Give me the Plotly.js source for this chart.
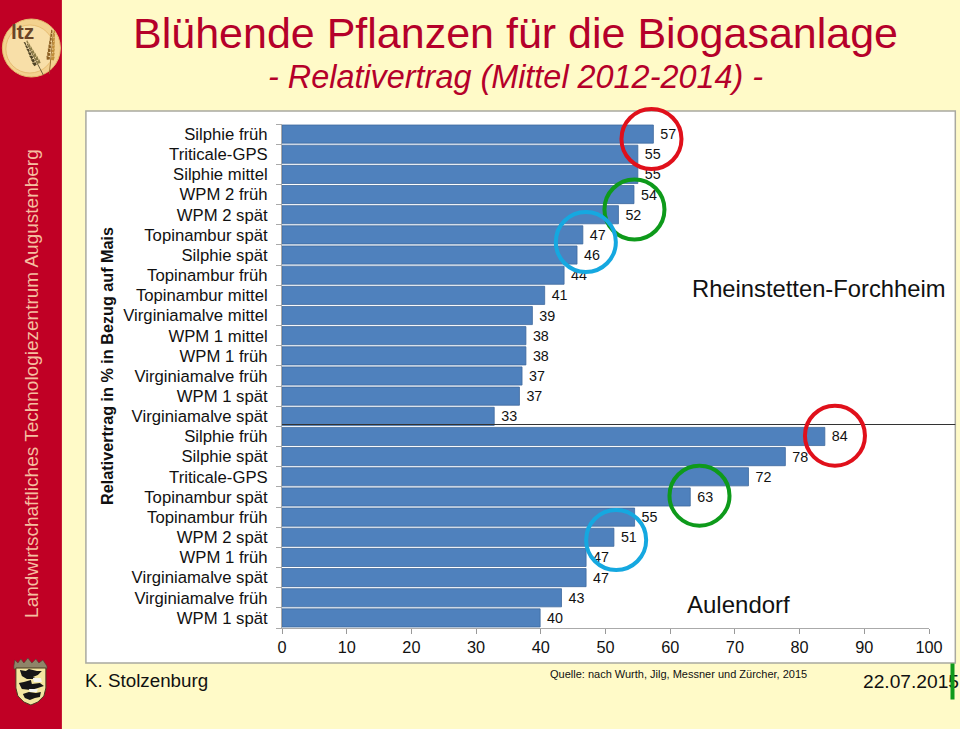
<!DOCTYPE html>
<html><head><meta charset="utf-8">
<script src="https://cdn.plot.ly/plotly-3.0.1.min.js"></script>
<style>html,body{margin:0;padding:0;background:#FFFAC8}#c{width:960px;height:729px}</style>
</head><body><div id="c"></div>
<script>
const categories = ["Silphie früh","Triticale-GPS","Silphie mittel","WPM 2 früh","WPM 2 spät","Topinambur spät","Silphie spät","Topinambur früh","Topinambur mittel","Virginiamalve mittel","WPM 1 mittel","WPM 1 früh","Virginiamalve früh","WPM 1 spät","Virginiamalve spät","Silphie früh","Silphie spät","Triticale-GPS","Topinambur spät","Topinambur früh","WPM 2 spät","WPM 1 früh","Virginiamalve spät","Virginiamalve früh","WPM 1 spät"];
const barLengths = [57.4,55,55,54.4,52,46.5,45.6,43.6,40.6,38.7,37.7,37.7,37.1,36.7,32.8,83.9,77.8,72.1,63.1,54.5,51.3,47,47,43.2,39.9];
const labels = [57,55,55,54,52,47,46,44,41,39,38,38,37,37,33,84,78,72,63,55,51,47,47,43,40];
const xTicks = [0,10,20,30,40,50,60,70,80,90,100];

const W=960,H=729,L=282,R=928.7,T=124,B=628;
const FONT='Liberation Sans, Arial, sans-serif';
const px=v=>(v-L)/(R-L), py=v=>(B-v)/(B-T);
const rect=(x0,y0,x1,y1,fill,line,layer)=>({type:'rect',xref:'paper',yref:'paper',x0:px(x0),x1:px(x1),y0:py(y0),y1:py(y1),fillcolor:fill,line:line||{width:0},layer:layer||'below'});
const circle=(cx,cy,r,color)=>({type:'circle',xref:'paper',yref:'paper',x0:px(cx-r),x1:px(cx+r),y0:py(cy-r),y1:py(cy+r),line:{color:color,width:4},fillcolor:'rgba(0,0,0,0)',layer:'above'});
const disc=(cx,cy,r,fill,line)=>({type:'circle',xref:'paper',yref:'paper',x0:px(cx-r),x1:px(cx+r),y0:py(cy-r),y1:py(cy+r),line:line||{width:0},fillcolor:fill,layer:'above'});
const path=(pts,fill,line)=>({type:'path',xref:'paper',yref:'paper',path:pts.map((p,i)=>(i?'L':'M')+px(p[0]).toFixed(5)+','+py(p[1]).toFixed(5)).join(' ')+' Z',fillcolor:fill,line:line||{width:0},layer:'above'});
const ann=(x,y,text,size,color,o)=>Object.assign({xref:'paper',yref:'paper',x:px(x),y:py(y),text:text,showarrow:false,font:{size:size,color:color,family:FONT},xanchor:'center',yanchor:'middle'},o||{});

// wheat ear: grains along a stem, for the logo only
function ear(x0,y0,x1,y1,n,c1,c2){
  const out=[path([[x0,y0],[x1,y1],[x1+0.8,y1],[x0+0.8,y0]],c2)];
  const dx=x1-x0,dy=y1-y0,len=Math.hypot(dx,dy),ux=dx/len,uy=dy/len,nx=-uy,ny=ux;
  for(let i=0;i<n;i++){
    const t=0.35+0.65*i/(n-1),cx=x0+dx*t,cy=y0+dy*t,w=3.6*(1.15-0.6*(i/(n-1)));
    [-1,1].forEach(s=>{
      const ax=cx+s*nx*0.6,ay=cy+s*ny*0.6,tx=cx+s*nx*w+ux*3.4,ty=cy+s*ny*w+uy*3.4;
      out.push(path([[ax,ay],[ax+s*nx*w*0.7-ux*0.5,ay+s*ny*w*0.7-uy*0.5],[tx,ty],[ax+ux*2.4,ay+uy*2.4]],s>0?c1:c2));
    });
  }
  return out;
}

const shapes=[
 rect(0,0,62,729,'#C00025'),
 rect(86,111,955,663,'#FFFFFF',{color:'#A9A9A0',width:1.5}),
 {type:'line',xref:'paper',yref:'paper',x0:px(282),x1:px(955),y0:py(424.5),y1:py(424.5),line:{color:'#333333',width:1},layer:'above'},
 disc(31.5,48,29,'#F3D28F',{color:'#E4BC6E',width:1}),
 disc(30,49,24,'#F8DFA8',{color:'#E3B66A',width:0.8}),
 ...ear(43,75,27,44,7,'#8A7A45','#4F4426'),
 ...ear(49,74,53,33,8,'#C08F3C','#8C5F22'),
 // coat of arms
 path([[14,666],[15,660],[18,663],[21,659],[24,663],[28,658],[32,663],[36,659],[39,663],[43,660],[47,666],[47,669],[14,669]],'#8F8468',{color:'#4A4232',width:0.6}),
 path([[16,668],[46,668],[46,688],[44,696],[38,702],[31,705],[24,702],[18,696],[16,688]],'#F3E6A0',{color:'#4A3B20',width:1}),
 path([[20,670],[26,671],[29,669],[37,671],[42,671],[38,675],[33,677],[38,679],[27,679],[22,676]],'#161616'),
 path([[19,683],[24,682],[31,680],[32,684],[40,683],[44,686],[38,688],[31,690],[22,689]],'#161616'),
 path([[23,694],[29,692],[36,693],[41,692],[40,697],[35,698],[30,700],[25,698]],'#161616'),
 path([[33,678],[41,678],[42,682],[34,682]],'#F5F5F0'),
 path([[29,689],[38,689],[37,692],[30,692]],'#F5F5F0'),
 circle(651.3,139,30,'#E0101B'),
 circle(634.3,209.5,30,'#0E9A1B'),
 circle(585.7,242,30,'#15A8E0'),
 circle(834.7,435.7,30,'#E0101B'),
 circle(699.3,495.7,30,'#0E9A1B'),
 circle(616,540,30,'#15A8E0')
];

const annotations=[
 ann(515,33,'Blühende Pflanzen für die Biogasanlage',43,'#B5002A'),
 ann(515,77,'<i>- Relativertrag (Mittel 2012-2014) -</i>',32.4,'#B5002A'),
 ann(31,383,'Landwirtschaftliches Technologiezentrum Augustenberg',19,'#F5BFA0',{textangle:-90}),
 ann(107,366,'<b>Relativertrag in % in Bezug auf Mais</b>',16.2,'#111111',{textangle:-90}),
 ann(818,288,'Rheinstetten-Forchheim',23.75,'#111111'),
 ann(738,604,'Aulendorf',24,'#111111'),
 ann(146.5,680,'K. Stolzenburg',18.8,'#111111'),
 ann(678.5,674,'Quelle: nach Wurth, Jilg, Messner und Zürcher, 2015',11,'#111111'),
 ann(911,681,'22.07.2015',19.2,'#111111'),
 ann(952.4,681,' ',1,'#0E9A1B',{width:3,height:35,bgcolor:'#0E9A1B',borderpad:0}),
 ann(23,31,'<b>ltz</b>',21,'#6A4526')
];

Plotly.newPlot('c',[{
 type:'bar',orientation:'h',
 y:categories.map((_,i)=>i),x:barLengths,
 text:labels.map(v=>'\u00A0'+v),textposition:'outside',cliponaxis:false,
 textfont:{size:14.3,color:'#111111',family:FONT},
 marker:{color:'#4F81BD',line:{color:'#3F6A9E',width:0.8}},
 width:0.9,hoverinfo:'skip'
}],{
 width:W,height:H,showlegend:false,
 margin:{l:L,r:W-R,t:T,b:H-B,pad:0},
 paper_bgcolor:'#FFFAC8',plot_bgcolor:'rgba(0,0,0,0)',
 font:{family:FONT,color:'#111111'},
 xaxis:{range:[0,100],tickvals:xTicks,ticks:'outside',ticklen:5,tickcolor:'#999999',ticklabelstandoff:-1,showgrid:false,zeroline:false,showline:true,linecolor:'#AAAAAA',linewidth:1,tickfont:{size:16.3,color:'#111111'}},
 yaxis:{range:[24.5,-0.5],tickvals:categories.map((_,i)=>i),ticktext:categories,ticks:'',ticklabelstandoff:10,showgrid:false,zeroline:false,showline:true,linecolor:'#AAAAAA',linewidth:1,tickfont:{size:16.7,color:'#111111'},automargin:false,
  minor:{tickmode:'linear',tick0:0.5,dtick:1,ticks:'outside',ticklen:5,tickcolor:'#AAAAAA',showgrid:false}},
 shapes:shapes,annotations:annotations
},{displayModeBar:false,staticPlot:true});
</script></body></html>
